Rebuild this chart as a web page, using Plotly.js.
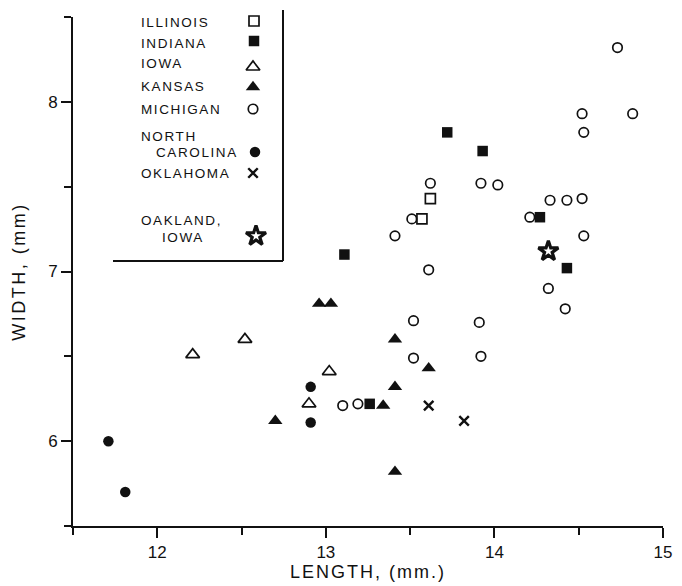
<!DOCTYPE html>
<html>
<head>
<meta charset="utf-8">
<script src="https://cdn.plot.ly/plotly-3.0.1.min.js"></script>
<style>html,body{margin:0;padding:0;background:#fff;}#chart{width:682px;height:586px;}</style>
</head>
<body>
<div id="chart"></div>
<script>
// ---- data (length mm, width mm) ----
const illinoisX = [13.62, 13.57];
const illinoisY = [7.43, 7.31];

const indianaX = [13.72, 13.93, 13.11, 14.27, 14.43, 13.26];
const indianaY = [7.82, 7.71, 7.10, 7.32, 7.02, 6.22];

const iowaX = [12.52, 12.21, 13.02, 12.90];
const iowaY = [6.60, 6.51, 6.41, 6.22];

const kansasX = [12.96, 13.03, 13.41, 13.61, 13.41, 13.34, 12.70, 13.41];
const kansasY = [6.81, 6.81, 6.60, 6.43, 6.32, 6.21, 6.12, 5.82];

const michiganX = [14.73, 14.52, 14.82, 14.53, 13.62, 13.92, 14.02, 14.33, 14.43, 14.52, 13.51, 14.21,
                   13.41, 14.53, 13.61, 14.32, 14.42, 13.91, 13.52, 13.52, 13.92, 13.10, 13.19];
const michiganY = [8.32, 7.93, 7.93, 7.82, 7.52, 7.52, 7.51, 7.42, 7.42, 7.43, 7.31, 7.32,
                   7.21, 7.21, 7.01, 6.90, 6.78, 6.70, 6.71, 6.49, 6.50, 6.21, 6.22];

const northCarolinaX = [11.71, 11.81, 12.91, 12.91];
const northCarolinaY = [6.00, 5.70, 6.32, 6.11];

const oklahomaX = [13.61, 13.82];
const oklahomaY = [6.21, 6.12];

const oaklandIowaX = [14.32];
const oaklandIowaY = [7.12];

const xTickVals = [12, 13, 14, 15];
const xTickText = ['12', '13', '14', '15'];
const yTickVals = [6, 7, 8];
const yTickText = ['6', '7', '8'];

const legendNames = ['ILLINOIS', 'INDIANA', 'IOWA', 'KANSAS', 'MICHIGAN', 'NORTH CAROLINA', 'OKLAHOMA', 'OAKLAND, IOWA'];

// ---- styles / layout geometry ----
const INK = '#111';
const FONT = 'Liberation Sans, Arial, sans-serif';
const L = 73, R = 19, T = 17, B = 60, W = 682, H = 586;
const PW = W - L - R, PH = H - T - B;
const pxX = p => (p - L) / PW;          // pixel -> paper
const pxY = p => (H - B - p) / PH;

const styles = [
  {symbol: 'square-open', size: 10, lw: 1.7},
  {symbol: 'square', size: 10.5, lw: 0},
  {symbol: 'triangle-up-open', size: 12, lw: 1.7},
  {symbol: 'triangle-up', size: 12.5, lw: 0},
  {symbol: 'circle-open', size: 9.5, lw: 1.7},
  {symbol: 'circle', size: 10.5, lw: 0},
  {symbol: 'x-thin-open', size: 9.5, lw: 2.4},
  {symbol: 'star-open', size: 15, lw: 3.2}
];
const seriesX = [illinoisX, indianaX, iowaX, kansasX, michiganX, northCarolinaX, oklahomaX, oaklandIowaX];
const seriesY = [illinoisY, indianaY, iowaY, kansasY, michiganY, northCarolinaY, oklahomaY, oaklandIowaY];

const traces = seriesX.map((xs, i) => ({
  type: 'scatter', mode: 'markers', name: legendNames[i], x: xs, y: seriesY[i],
  showlegend: false, cliponaxis: false,
  marker: {symbol: styles[i].symbol, size: styles[i].size, color: INK,
           line: {color: INK, width: styles[i].lw}}
}));

// legend keys (drawn on a pixel-coordinate overlay axis)
const keyPos = [[254, 21], [254, 41], [253, 67], [253, 87], [253, 109], [255, 152], [253, 173], [256, 236]];
keyPos.forEach((p, i) => {
  traces.push({
    type: 'scatter', mode: 'markers', x: [p[0]], y: [p[1]], xaxis: 'x2', yaxis: 'y2',
    showlegend: false, cliponaxis: false, hoverinfo: 'skip',
    marker: {symbol: styles[i].symbol, size: styles[i].size, color: INK,
             line: {color: INK, width: styles[i].lw}}
  });
});

const labelLines = [
  ['ILLINOIS', 142, 23], ['INDIANA', 142, 43], ['IOWA', 142, 64], ['KANSAS', 142, 86],
  ['MICHIGAN', 142, 109], ['NORTH', 142, 136], ['CAROLINA', 157, 152], ['OKLAHOMA', 142, 173],
  ['OAKLAND,', 142, 220], ['IOWA', 163, 237]
];
const sp = (t, s) => '<span style="letter-spacing:' + s + 'px">' + t + '</span>';
const annotations = labelLines.map(l => ({
  xref: 'paper', yref: 'paper', x: pxX(l[1] - 3), y: pxY(l[2]), xanchor: 'left', yanchor: 'middle',
  text: sp(l[0], 1.6), showarrow: false, font: {family: FONT, size: 13.5, color: INK}
}));

const layout = {
  width: W, height: H,
  margin: {l: L, r: R, t: T, b: B},
  paper_bgcolor: '#fff', plot_bgcolor: '#fff',
  font: {family: FONT, color: INK},
  showlegend: false,
  xaxis: {
    range: [11.5, 15], tickvals: xTickVals, ticktext: xTickText,
    showgrid: false, zeroline: false, showline: true, linecolor: INK, linewidth: 2,
    ticks: 'outside', ticklen: 10, tickwidth: 2, tickcolor: INK,
    tickfont: {family: FONT, size: 17, color: INK},
    minor: {dtick: 0.5, tick0: 11.5, ticks: 'outside', ticklen: 7, tickwidth: 2, tickcolor: INK, showgrid: false},
    title: {text: sp('LENGTH, (mm.)', 2), font: {family: FONT, size: 18, color: INK}, standoff: 4},
    automargin: false
  },
  yaxis: {
    range: [5.5, 8.5], tickvals: yTickVals, ticktext: yTickText,
    showgrid: false, zeroline: false, showline: true, linecolor: INK, linewidth: 2,
    ticks: 'outside', ticklen: 10, tickwidth: 2, tickcolor: INK,
    tickfont: {family: FONT, size: 17, color: INK},
    minor: {dtick: 0.5, tick0: 5.5, ticks: 'outside', ticklen: 7, tickwidth: 2, tickcolor: INK, showgrid: false},
    title: {text: sp('WIDTH, (mm)', 2.5), font: {family: FONT, size: 18, color: INK}, standoff: 18},
    automargin: false
  },
  xaxis2: {overlaying: 'x', range: [L, W - R], visible: false, fixedrange: true},
  yaxis2: {overlaying: 'y', range: [H - B, T], visible: false, fixedrange: true},
  shapes: [
    {type: 'line', xref: 'paper', yref: 'paper', x0: pxX(283), x1: pxX(283), y0: pxY(10), y1: pxY(261),
     line: {color: INK, width: 2}},
    {type: 'line', xref: 'paper', yref: 'paper', x0: pxX(113), x1: pxX(283), y0: pxY(261), y1: pxY(261),
     line: {color: INK, width: 2}}
  ],
  annotations: annotations
};

Plotly.newPlot('chart', traces, layout, {staticPlot: true, displayModeBar: false});
</script>
</body>
</html>
